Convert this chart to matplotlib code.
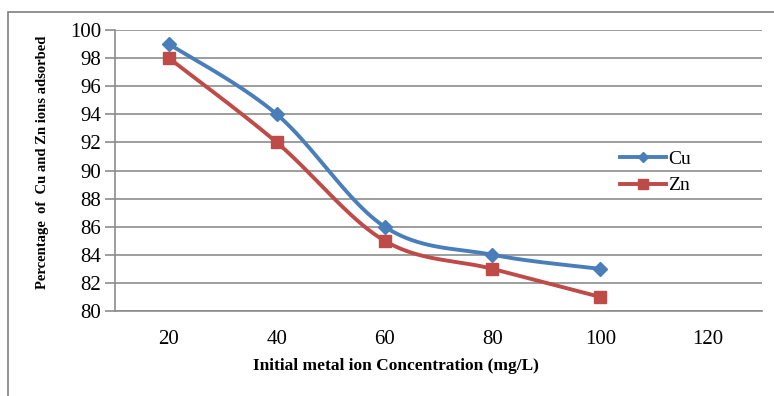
import numpy as np
from matplotlib import pyplot as plt
from matplotlib.patches import Rectangle
from matplotlib.lines import Line2D

# data
conc = [20, 40, 60, 80, 100]
cu = [99, 94, 86, 84, 83]
zn = [98, 92, 85, 83, 81]

blue = '#4a7ebb'
red = '#be4b48'
grid = '#8c8c8c'


def smooth(x, y, n=40):
    # Excel-like smoothing: cubic bezier with catmull-rom control points
    x = np.asarray(x, float)
    y = np.asarray(y, float)
    px = np.concatenate([[x[0]], x, [x[-1]]])
    py = np.concatenate([[y[0]], y, [y[-1]]])
    xs, ys = [], []
    t = np.linspace(0, 1, n)
    for i in range(1, len(px) - 2):
        p0 = np.array([px[i], py[i]])
        p3 = np.array([px[i + 1], py[i + 1]])
        c1 = p0 + (np.array([px[i + 1], py[i + 1]]) - np.array([px[i - 1], py[i - 1]])) / 6
        c2 = p3 - (np.array([px[i + 2], py[i + 2]]) - np.array([px[i], py[i]])) / 6
        b = ((1 - t) ** 3)[:, None] * p0 + (3 * (1 - t) ** 2 * t)[:, None] * c1 \
            + (3 * (1 - t) * t ** 2)[:, None] * c2 + (t ** 3)[:, None] * p3
        xs.append(b[:, 0])
        ys.append(b[:, 1])
    return np.concatenate(xs), np.concatenate(ys)


plt.rcParams['font.family'] = 'Liberation Serif'
fig = plt.figure(figsize=(7.74, 3.96), dpi=100)
ax = fig.add_axes([115 / 774, 1 - 311 / 396, (762 - 115) / 774, (311 - 30) / 396])

# outer frame
fig.patches.append(Rectangle((8 / 774, -0.1), 1.2, 1 - 12 / 396 + 0.1, transform=fig.transFigure,
                             fill=False, edgecolor='#7f7f7f', lw=1.2))

sx, sy = smooth(conc, cu)
ax.plot(sx, sy, color=blue, lw=2.8, solid_capstyle='round', zorder=3)
ax.plot(conc, cu, 'D', color=blue, ms=7, zorder=4)
sx, sy = smooth(conc, zn)
ax.plot(sx, sy, color=red, lw=2.8, solid_capstyle='round', zorder=3)
ax.plot(conc, zn, 's', color=red, ms=9, zorder=4)

ax.set_xlim(10, 130)
ax.set_ylim(80, 100)
ax.set_yticks(np.arange(80, 101, 2))
ax.set_xticks([20, 40, 60, 80, 100, 120])
ax.yaxis.grid(True, color=grid, lw=1.2)
ax.set_axisbelow(True)
for s in ['top', 'right']:
    ax.spines[s].set_visible(False)
for s in ['left', 'bottom']:
    ax.spines[s].set_color(grid)
    ax.spines[s].set_linewidth(1.2)
ax.tick_params(axis='y', length=7, color=grid, width=1.2, labelsize=15, pad=3)
ax.tick_params(axis='x', length=0, labelsize=15, pad=14)

ax.set_xlabel('Initial metal ion Concentration (mg/L)', fontsize=12.5, fontweight='bold')
ax.xaxis.set_label_coords(396 / 774, 1 - 358 / 396, transform=fig.transFigure)
ax.set_ylabel('Percentage  of  Cu and Zn ions adsorbed', fontsize=10.5, fontweight='bold')
ax.yaxis.set_label_coords(49 / 774, 1 - 162 / 396, transform=fig.transFigure)

# legend
handles = [Line2D([], [], color=blue, lw=2.8, marker='D', ms=5),
           Line2D([], [], color=red, lw=2.8, marker='s', ms=7)]
ax.legend(handles, ['Cu', 'Zn'], loc='upper left', bbox_to_anchor=(602 / 774, 1 - 133 / 396),
          bbox_transform=fig.transFigure, frameon=False, fontsize=14, handlelength=2.4,
          handletextpad=0.1, labelspacing=0.45)

fig.savefig('out.png', dpi=100)
